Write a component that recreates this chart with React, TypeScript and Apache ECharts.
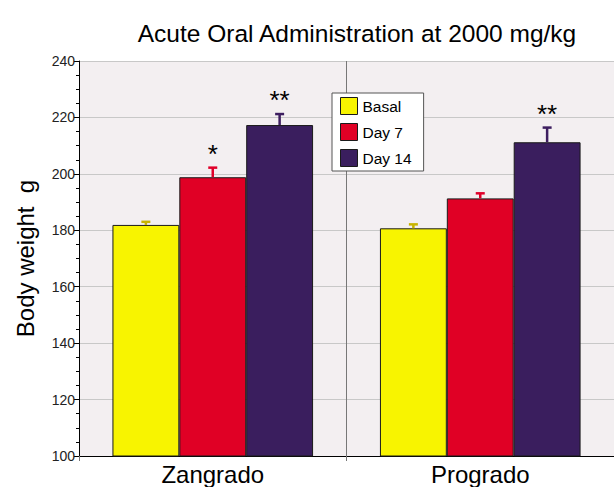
import React, { useEffect, useRef } from "react";
import * as echarts from "echarts";

const categories = ["Zangrado", "Progrado"];
const seriesNames = ["Basal", "Day 7", "Day 14"];
const basal = [181.9, 180.7];
const day7 = [198.8, 191.3];
const day14 = [217.3, 211.2];
const basalErr = [1.1, 1.4];
const day7Err = [3.4, 1.8];
const day14Err = [3.9, 5.2];
const basalSig = ["", ""];
const day7Sig = ["*", ""];
const day14Sig = ["**", "**"];
const yTicks = [100, 120, 140, 160, 180, 200, 220, 240];

const barColors = ["#F8F400", "#E00025", "#3A1E5E"];
const errColors = ["#C8B400", "#E0002A", "#3D1E60"];

export default function App() {
  const ref = useRef<HTMLDivElement>(null);
  useEffect(() => {
    if (!ref.current) return;
    const chart = echarts.init(ref.current, null, { renderer: "svg" });
    const values = [basal, day7, day14];
    const errs = [basalErr, day7Err, day14Err];
    const sigs = [basalSig, day7Sig, day14Sig];
    const font = "Liberation Sans, Arial, sans-serif";

    const barSeries = seriesNames.map((name, i) => ({
      name,
      type: "bar",
      data: values[i],
      barWidth: "25%",
      barGap: "0%",
      itemStyle: { color: barColors[i], borderColor: "#1a1a1a", borderWidth: 1 },
      z: 2,
    }));

    const errSeries = seriesNames.map((name, i) => ({
      type: "custom",
      name: name + " err",
      data: categories.map((c, j) => [j, values[i][j], values[i][j] + errs[i][j]]),
      z: 3,
      silent: true,
      renderItem: (params: any, api: any) => {
        const idx = api.value(0);
        const band = api.size([1, 0])[0];
        const off = band * 0.25 * (i - 1);
        const p0 = api.coord([idx, api.value(1)]);
        const p1 = api.coord([idx, api.value(2)]);
        const x = p0[0] + off;
        const cap = 4.5;
        const sig = sigs[i][params.dataIndex];
        const children: any[] = [
          {
            type: "line",
            shape: { x1: x, y1: p0[1], x2: x, y2: p1[1] },
            style: { stroke: errColors[i], lineWidth: 2.5 },
          },
          {
            type: "line",
            shape: { x1: x - cap, y1: p1[1], x2: x + cap, y2: p1[1] },
            style: { stroke: errColors[i], lineWidth: 2.5 },
          },
        ];
        if (sig) {
          children.push({
            type: "text",
            style: {
              text: sig,
              x,
              y: p1[1] - 1,
              align: "center",
              verticalAlign: "bottom",
              fontSize: 26,
              fontFamily: font,
              fill: "#000",
            },
          });
        }
        return { type: "group", children };
      },
    }));

    chart.setOption({
      animation: false,
      title: {
        text: "Acute Oral Administration at 2000 mg/kg",
        left: 352,
        top: 16,
        textAlign: "center",
        textStyle: { fontSize: 24.5, fontWeight: "normal", color: "#000", fontFamily: font },
      },
      legend: {
        data: seriesNames,
        orient: "vertical",
        left: 332,
        top: 93,
        itemWidth: 17,
        itemHeight: 17,
        itemGap: 8,
        padding: [4, 12, 4, 8],
        backgroundColor: "#fff",
        borderColor: "#555",
        borderWidth: 1,
        borderRadius: 0,
        icon: "rect",
        itemStyle: { borderColor: "#1a1a1a", borderWidth: 1 },
        textStyle: { fontSize: 15.5, color: "#000", fontFamily: font },
      },
      grid: {
        left: 79,
        top: 61,
        width: 538,
        height: 395,
        show: true,
        backgroundColor: "#F3EFF1",
        borderWidth: 0,
      },
      xAxis: {
        type: "category",
        data: categories,
        axisLine: { lineStyle: { color: "#000", width: 1 } },
        axisTick: { show: true, length: 5, lineStyle: { color: "#777" } },
        splitLine: { show: true, lineStyle: { color: "#777", width: 1 } },
        axisLabel: { fontSize: 24, color: "#000", fontFamily: font, margin: 6 },
      },
      yAxis: {
        type: "value",
        min: yTicks[0],
        max: yTicks[yTicks.length - 1],
        interval: 20,
        name: "Body weight  g",
        nameLocation: "middle",
        nameGap: 42,
        nameTextStyle: { fontSize: 24, color: "#000", fontFamily: font },
        axisLine: { show: true, lineStyle: { color: "#000", width: 1 } },
        axisTick: { show: true, length: 5, lineStyle: { color: "#000" } },
        minorTick: { show: true, splitNumber: 4, length: 3, lineStyle: { color: "#000" } },
        splitLine: { show: true, lineStyle: { color: "#C8C8C8", width: 1 } },
        axisLabel: { fontSize: 14, color: "#222", fontFamily: font, margin: 4 },
      },
      series: [...barSeries, ...errSeries],
    });
    return () => chart.dispose();
  }, []);
  return (
    <div
      ref={ref}
      style={{ position: "absolute", left: 0, top: 0, width: 614, height: 487 }}
    />
  );
}
